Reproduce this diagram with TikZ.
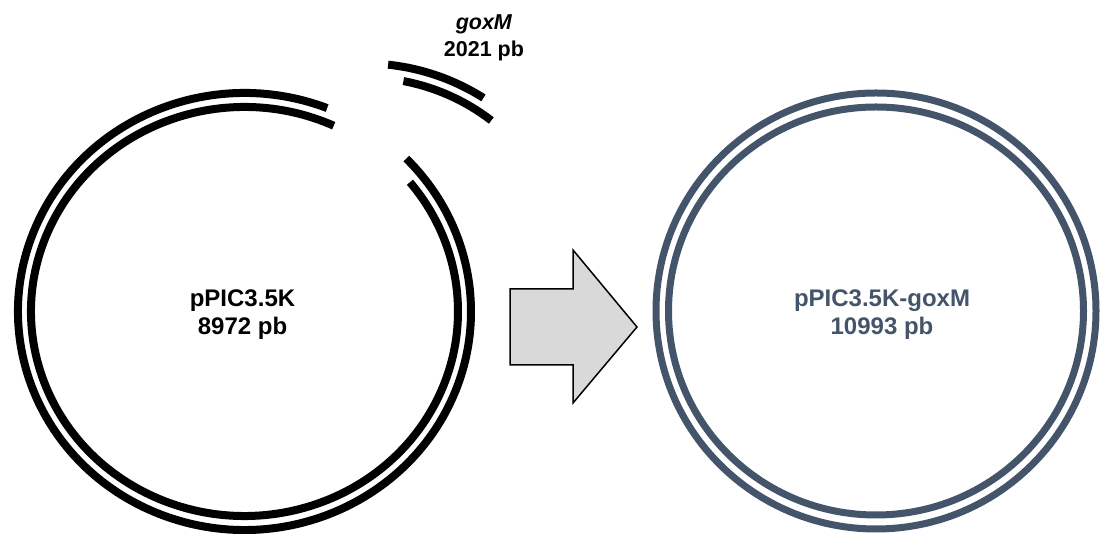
\documentclass[tikz,border=0pt]{standalone}
\usepackage{fontspec}
\setmainfont{Liberation Sans}
\definecolor{slate}{HTML}{44546A}
\definecolor{arrowgray}{HTML}{D9D9D9}
\begin{document}
\begin{tikzpicture}[x=1pt,y=1pt,
  strand/.style={line width=8pt, draw=black},
  newstrand/.style={line width=7pt, draw=slate},
  lbl/.style={font=\bfseries\fontsize{24}{28}\selectfont, align=center, inner sep=0pt},
  bigarrow/.style={fill=arrowgray, draw=black, line width=1.5pt, line join=miter}]
\useasboundingbox (0,0) rectangle (1100,534);
% centres
\coordinate (Lc) at (244.5,222.5);
\coordinate (Rc) at (876,223);
\coordinate (Fc) at (365,249.5);
% opened vector pPIC3.5K
\draw[strand] (Lc) ++(68.6:226.5pt and 218.5pt) arc[start angle=68.6, end angle=404.4, x radius=226.5pt, y radius=218.5pt];
\draw[strand] (Lc) ++(65.3:213.5pt and 204.5pt) arc[start angle=65.3, end angle=399.2, x radius=213.5pt, y radius=204.5pt];
% insert goxM
\draw[strand] (Fc) ++(57.6:221pt) arc[start angle=57.6, end angle=84, radius=221pt];
\draw[strand] (Fc) ++(52.4:207pt) arc[start angle=52.4, end angle=79.3, radius=207pt];
% recombinant plasmid
\draw[newstrand] (Rc) ellipse[x radius=220pt, y radius=218pt];
\draw[newstrand] (Rc) ellipse[x radius=207.5pt, y radius=204pt];
% arrow
\draw[bigarrow] (510,245) -- (573,245) -- (573,284) -- (637,207) -- (573,131) -- (573,169) -- (510,169) -- cycle;
% labels
\node[lbl] (pv) at (242.5,219.25) {pPIC3.5K\\8972 pb};
\node[lbl, text=slate] (rv) at (882,219.25) {pPIC3.5K-goxM\\10993 pb};
\node[lbl, font=\bfseries\fontsize{21.5}{27}\selectfont] (gene) at (484,496) {\textit{goxM}\\2021 pb};
\end{tikzpicture}
\end{document}
